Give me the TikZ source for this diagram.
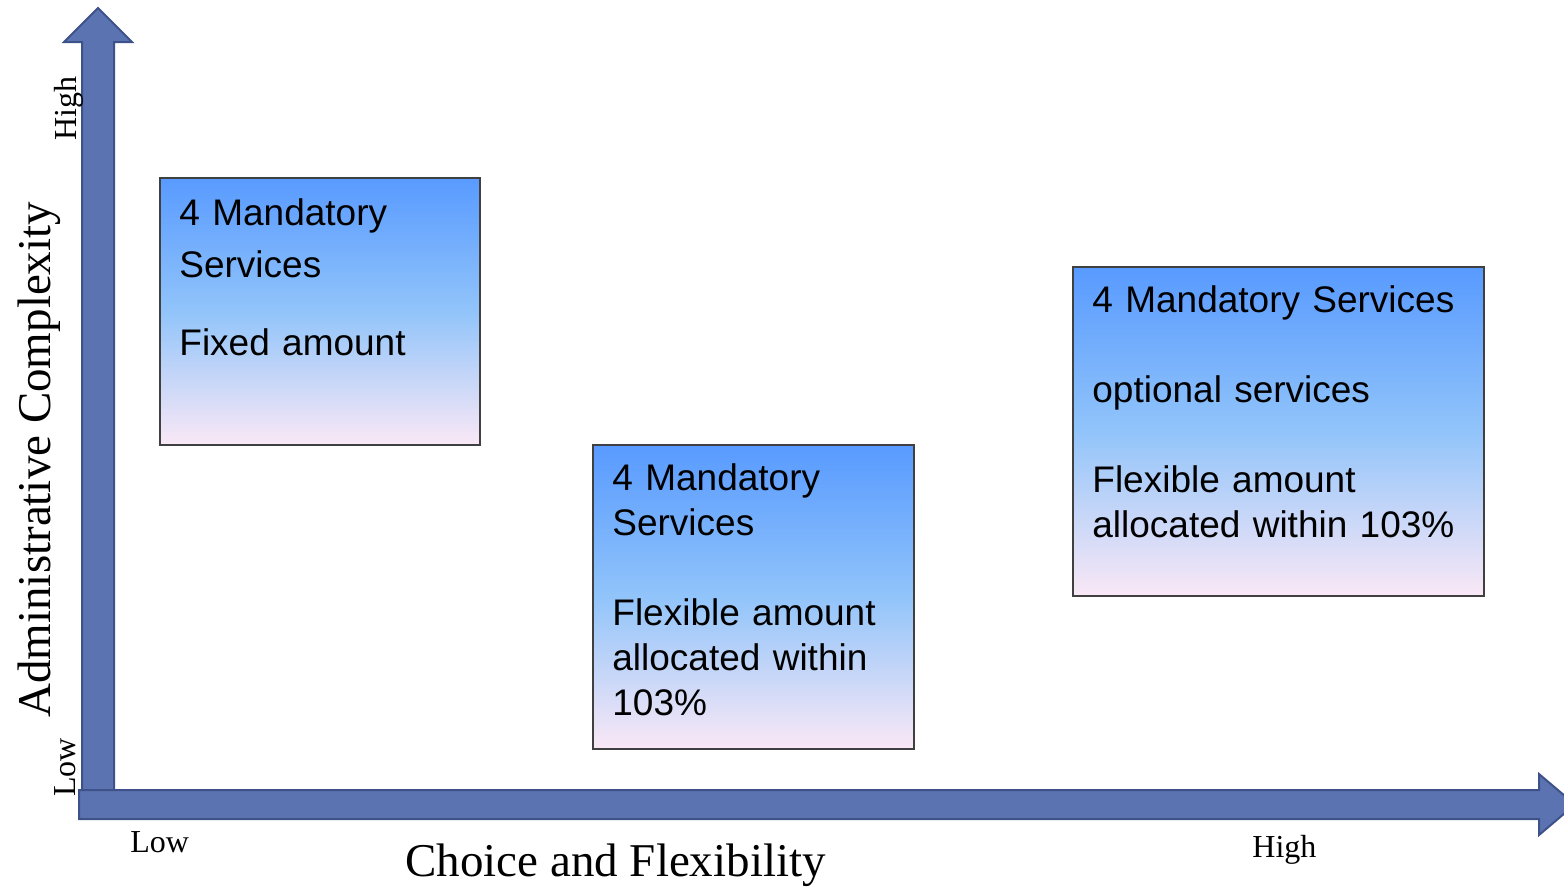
\documentclass[tikz,border=0pt]{standalone}
\usepackage{fontspec}
\setmainfont{Liberation Serif}
\newfontfamily\boxfont{Liberation Sans}
\usepackage{tikz}
\usetikzlibrary{positioning}

\definecolor{axisfill}{RGB}{92,115,178}
\definecolor{axisline}{RGB}{62,82,138}
\definecolor{boxtop}{RGB}{88,154,255}
\definecolor{boxmid}{RGB}{145,196,250}
\definecolor{boxbot}{RGB}{250,232,246}

\tikzset{
        axisarrow/.style={fill=axisfill, draw=axisline, line width=1pt, line join=miter},
        infobox/.style={draw=black!75, line width=0.75pt, top color=boxtop, bottom color=boxbot, middle color=boxmid, inner sep=0pt, anchor=north west},
        boxtext/.style={font=\boxfont\fontsize{18.5}{22.5}\selectfont, text width=190pt, align=left, inner sep=0pt, anchor=base west},
        axistitle/.style={font=\fontsize{23.5}{28}\selectfont, inner sep=0pt, anchor=base west},
        ticklabel/.style={font=\fontsize{16}{19}\selectfont, inner sep=0pt, anchor=base west}
}

\begin{document}
\begin{tikzpicture}[x=0.5pt, y=-0.5pt]
        \useasboundingbox (0,0) rectangle (1564,890);
        % axes
        \draw[axisarrow] (82,790) -- (82,42) -- (64,42) -- (98,8) -- (132,42) -- (114,42) -- (114,790) -- cycle;
        \draw[axisarrow] (79,790) -- (1539,790) -- (1539,774) -- (1575,804.5) -- (1539,835) -- (1539,819) -- (79,819) -- cycle;
        % boxes
        \node[infobox, minimum width=160pt, minimum height=133.5pt] (fixedbox) at (159,177) {};
        \node[infobox, minimum width=160.5pt, minimum height=152pt] (flexbox) at (592,444) {};
        \node[infobox, minimum width=205.5pt, minimum height=164.5pt] (optionbox) at (1072,266) {};
        \node[boxtext, font=\boxfont\fontsize{18.5}{26}\selectfont] (fixedtext) at (179,225) {4 Mandatory\\ Services\\[13pt] Fixed amount};
        \node[boxtext] (flextext) at (612,490) {4 Mandatory\\ Services\\[22.5pt] Flexible amount\\ allocated within\\ 103\%};
        \node[boxtext] (optiontext) at (1092,312) {4 Mandatory Services\\[22.5pt] optional services\\[22.5pt] Flexible amount\\ allocated within 103\%};
        % labels
        \node[axistitle, rotate=90] (ylabel) at (50,718) {Administrative Complexity};
        \node[axistitle] (xlabel) at (405,876) {Choice and Flexibility};
        \node[ticklabel] (xlow) at (130,852) {Low};
        \node[ticklabel] (xhigh) at (1252,857) {High};
        \node[ticklabel, rotate=90] (ylow) at (75,797) {Low};
        \node[ticklabel, rotate=90] (yhigh) at (76,141) {High};
\end{tikzpicture}
\end{document}
